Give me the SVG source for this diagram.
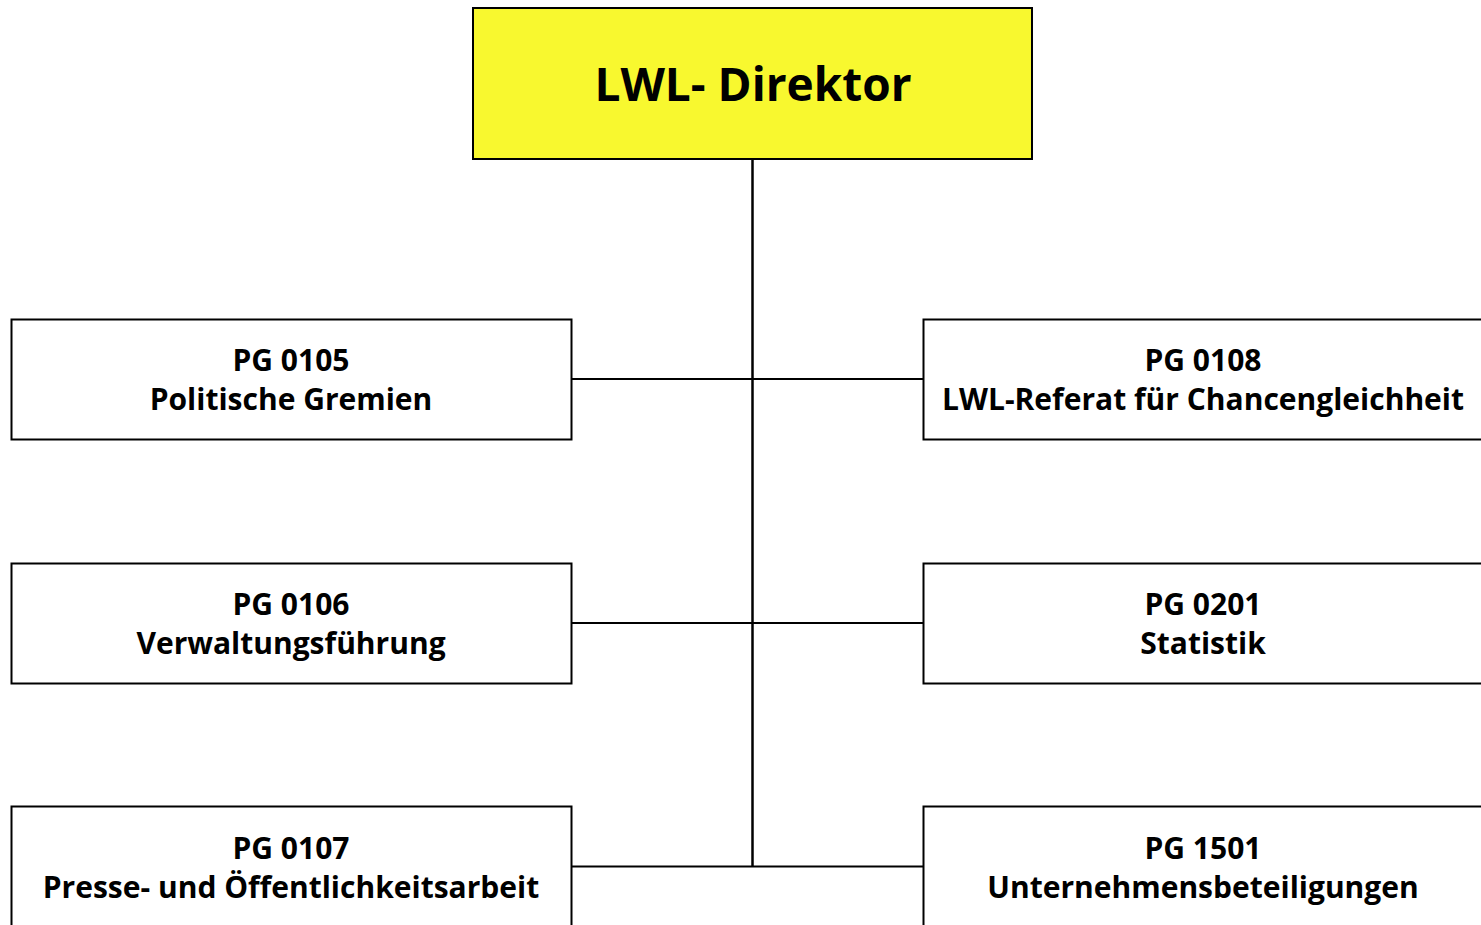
<svg xmlns="http://www.w3.org/2000/svg" width="1481" height="925" viewBox="0 0 1481 925">
<style>
.box{fill:#fff;stroke:#000;stroke-width:2}
.top{fill:#f8f82f;stroke:#000;stroke-width:2}
.t{font-family:"Open Sans","Noto Sans","DejaVu Sans",sans-serif;font-weight:bold;font-size:30px;text-anchor:middle;fill:#000}
.title{font-family:"Open Sans","Noto Sans","DejaVu Sans",sans-serif;font-weight:bold;font-size:46px;text-anchor:middle;fill:#000}
.c{stroke:#000;fill:none}
</style>
<rect width="1481" height="925" fill="#fff"/>
<g id="connectors">
<line class="c" x1="752.5" y1="159" x2="752.5" y2="866" stroke-width="2.5"/>
<line class="c" x1="571" y1="379" x2="923" y2="379" stroke-width="2"/>
<line class="c" x1="571" y1="623" x2="923" y2="623" stroke-width="2"/>
<line class="c" x1="571" y1="866.5" x2="923" y2="866.5" stroke-width="2"/>
</g>
<g id="director">
<rect class="top" x="473" y="8" width="559" height="151"/>
<text class="title" x="753" y="101">LWL- Direktor</text>
</g>
<g id="pg0105">
<rect class="box" x="11.5" y="319.5" width="560" height="120"/>
<text class="t" x="291" y="371">PG 0105</text>
<text class="t" x="291" y="410">Politische Gremien</text>
</g>
<g id="pg0106">
<rect class="box" x="11.5" y="563.5" width="560" height="120"/>
<text class="t" x="291" y="615">PG 0106</text>
<text class="t" x="291" y="654">Verwaltungsführung</text>
</g>
<g id="pg0107">
<rect class="box" x="11.5" y="806.5" width="560" height="130"/>
<text class="t" x="291" y="859">PG 0107</text>
<text class="t" x="291" y="898">Presse- und Öffentlichkeitsarbeit</text>
</g>
<g id="pg0108">
<rect class="box" x="923.5" y="319.5" width="570" height="120"/>
<text class="t" x="1203" y="371">PG 0108</text>
<text class="t" x="1203" y="410">LWL-Referat für Chancengleichheit</text>
</g>
<g id="pg0201">
<rect class="box" x="923.5" y="563.5" width="570" height="120"/>
<text class="t" x="1203" y="615">PG 0201</text>
<text class="t" x="1203" y="654">Statistik</text>
</g>
<g id="pg1501">
<rect class="box" x="923.5" y="806.5" width="570" height="130"/>
<text class="t" x="1203" y="859">PG 1501</text>
<text class="t" x="1203" y="898">Unternehmensbeteiligungen</text>
</g>
</svg>
